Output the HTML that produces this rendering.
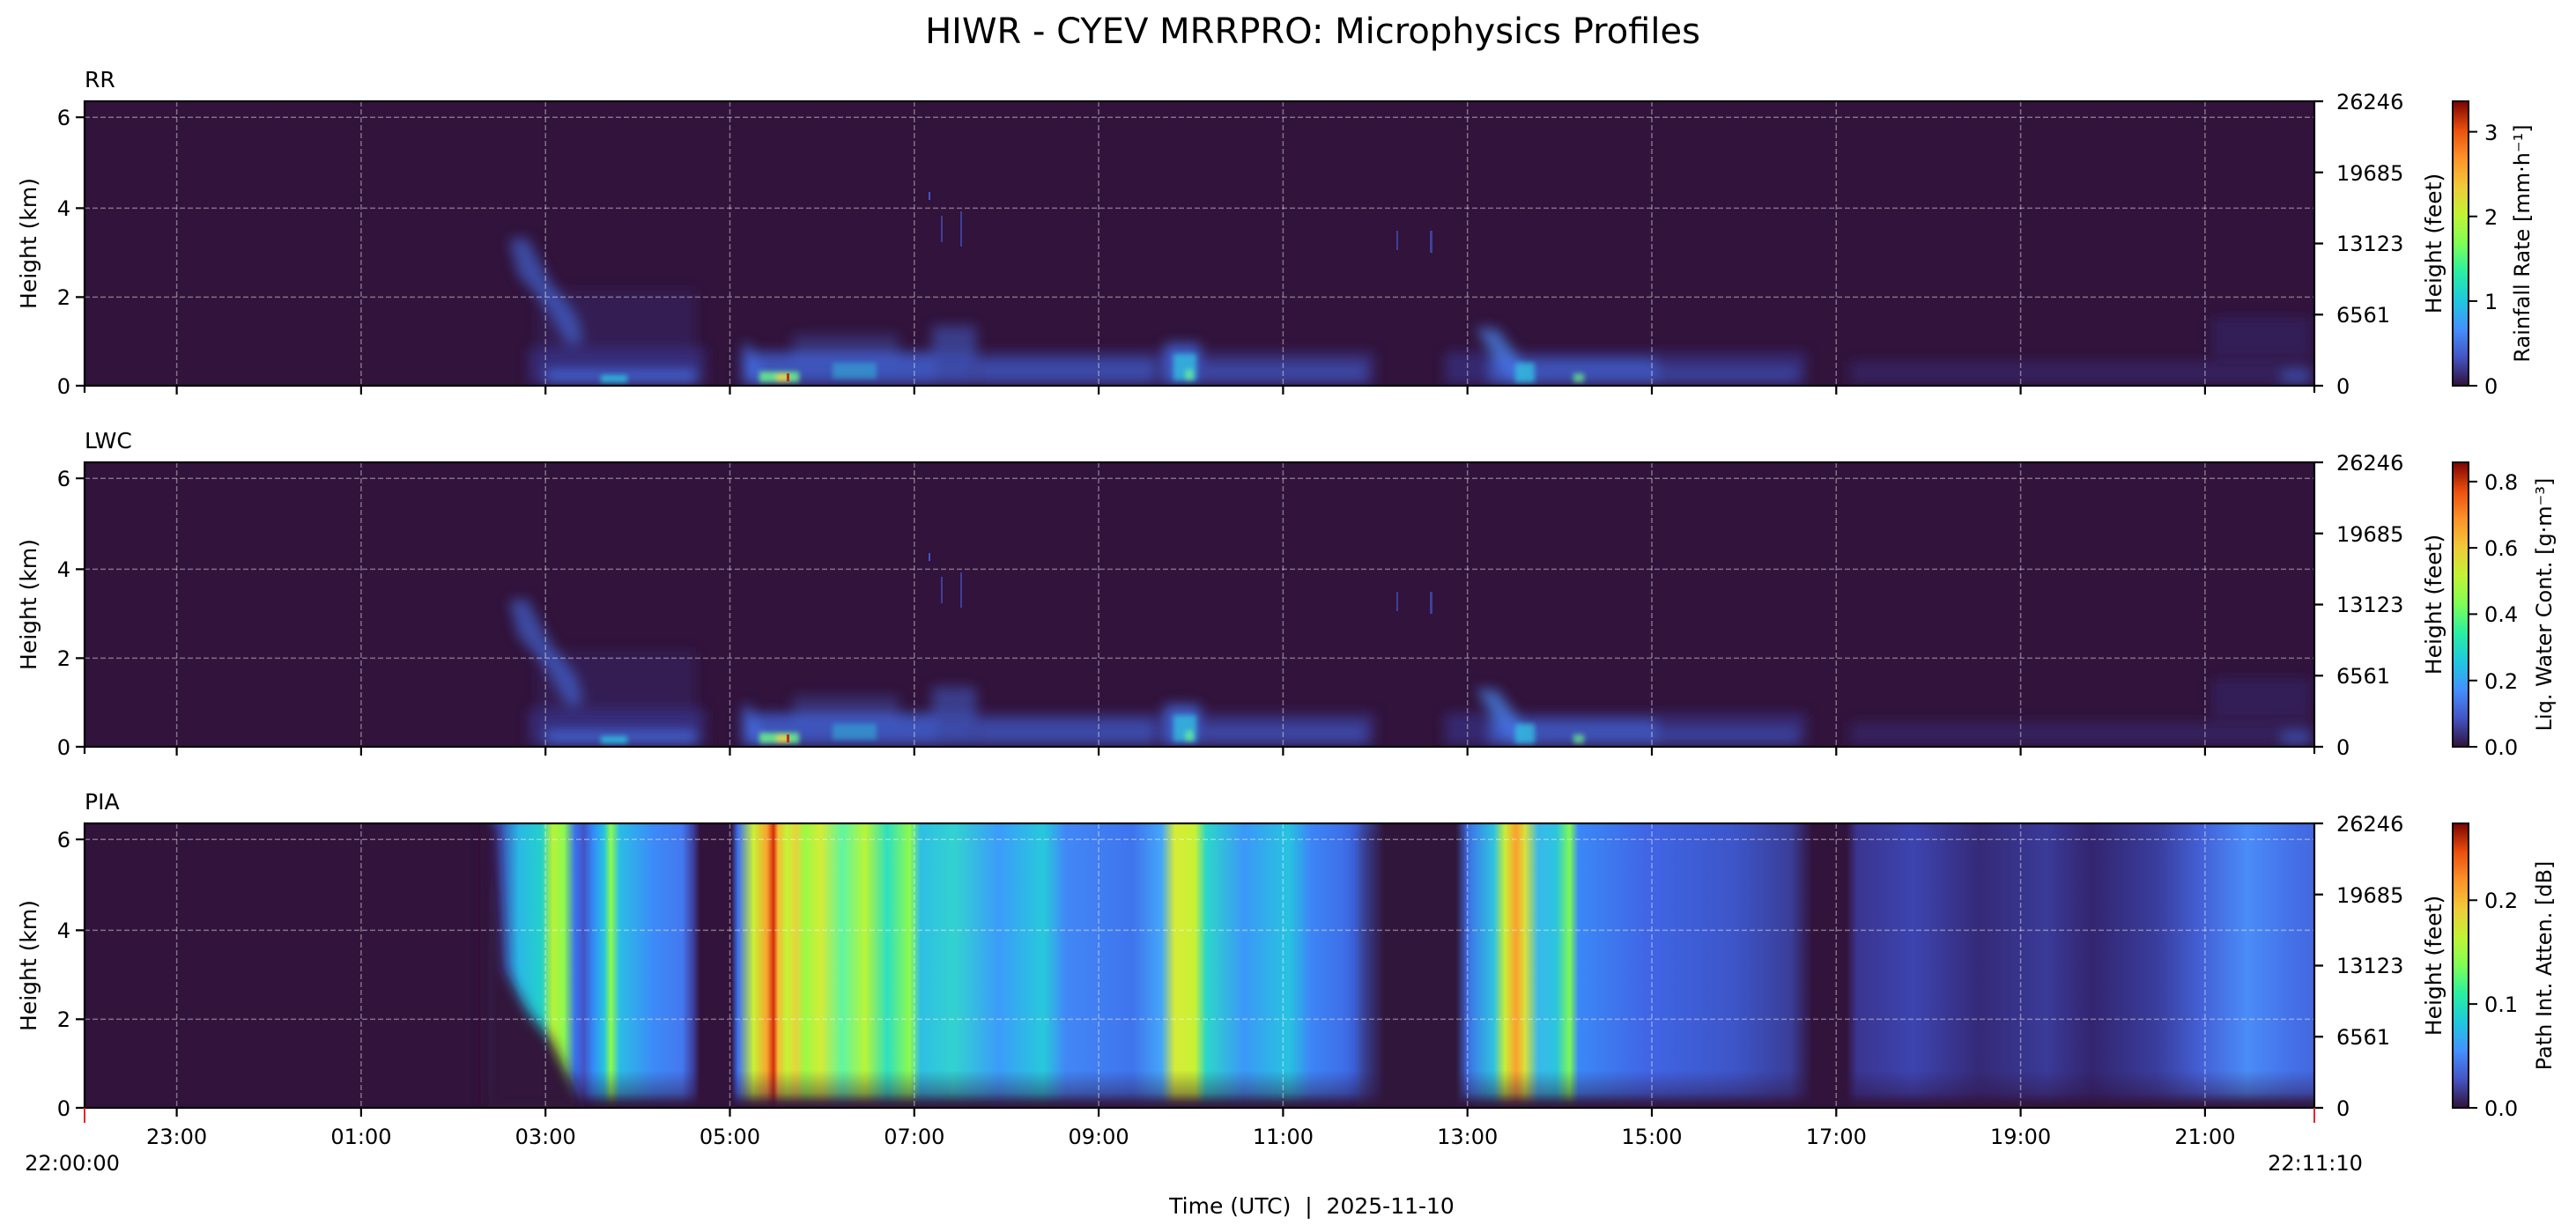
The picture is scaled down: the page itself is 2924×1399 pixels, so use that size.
<!DOCTYPE html>
<html><head><meta charset="utf-8"><style>
html,body{margin:0;padding:0;background:#fff;}
svg{display:block;font-family:"DejaVu Sans","Liberation Sans",sans-serif;}
</style></head><body>
<svg width="2924" height="1399" viewBox="0 0 2924 1399" xmlns="http://www.w3.org/2000/svg">
<defs>
<linearGradient id="turbo" x1="0" y1="1" x2="0" y2="0">
<stop offset="0" stop-color="#30123b"/><stop offset="0.1" stop-color="#4454c4"/><stop offset="0.2" stop-color="#4490fe"/><stop offset="0.3" stop-color="#1fc8de"/><stop offset="0.4" stop-color="#29efa2"/><stop offset="0.5" stop-color="#7eff55"/><stop offset="0.6" stop-color="#c1f334"/><stop offset="0.7" stop-color="#f1ca3a"/><stop offset="0.8" stop-color="#fe922a"/><stop offset="0.9" stop-color="#ea4f0d"/><stop offset="1" stop-color="#7a0403"/>
</linearGradient>
<linearGradient id="pia" x1="0" y1="0" x2="1" y2="0">
<stop offset="0" stop-color="#31133b"/><stop offset="0.180" stop-color="#31133b"/><stop offset="0.186" stop-color="#3d4fb8"/><stop offset="0.195" stop-color="#2ab8e5"/><stop offset="0.205" stop-color="#23d1c9"/><stop offset="0.210" stop-color="#b8f236"/><stop offset="0.215" stop-color="#8cfa4e"/><stop offset="0.220" stop-color="#3a72ee"/><stop offset="0.224" stop-color="#4454c4"/><stop offset="0.228" stop-color="#3389f8"/><stop offset="0.233" stop-color="#26c3e0"/><stop offset="0.236" stop-color="#8cfa4e"/><stop offset="0.240" stop-color="#2abde5"/><stop offset="0.255" stop-color="#3c8bf8"/><stop offset="0.268" stop-color="#4478f0"/><stop offset="0.273" stop-color="#3c3f9e"/><stop offset="0.276" stop-color="#31133b"/><stop offset="0.290" stop-color="#31133b"/><stop offset="0.293" stop-color="#3f6ff0"/><stop offset="0.300" stop-color="#caf135"/><stop offset="0.306" stop-color="#f7a52e"/><stop offset="0.309" stop-color="#d52d0d"/><stop offset="0.311" stop-color="#f4bc37"/><stop offset="0.315" stop-color="#c3f434"/><stop offset="0.319" stop-color="#e9d33b"/><stop offset="0.323" stop-color="#9afa45"/><stop offset="0.330" stop-color="#d4ec36"/><stop offset="0.340" stop-color="#5ff5a0"/><stop offset="0.350" stop-color="#b8f538"/><stop offset="0.360" stop-color="#2ee0c0"/><stop offset="0.370" stop-color="#8efa4c"/><stop offset="0.375" stop-color="#2ebfe3"/><stop offset="0.390" stop-color="#32d2d0"/><stop offset="0.410" stop-color="#3b9cf9"/><stop offset="0.430" stop-color="#27c9dc"/><stop offset="0.440" stop-color="#4287f6"/><stop offset="0.470" stop-color="#3f74ee"/><stop offset="0.483" stop-color="#44a6f8"/><stop offset="0.489" stop-color="#d6ec36"/><stop offset="0.498" stop-color="#c7f234"/><stop offset="0.503" stop-color="#2bd7c8"/><stop offset="0.520" stop-color="#3b98f8"/><stop offset="0.540" stop-color="#27c3df"/><stop offset="0.550" stop-color="#3d85f6"/><stop offset="0.570" stop-color="#3e67e3"/><stop offset="0.576" stop-color="#3c3f9e"/><stop offset="0.583" stop-color="#31133b"/><stop offset="0.615" stop-color="#31133b"/><stop offset="0.620" stop-color="#3e70ea"/><stop offset="0.632" stop-color="#2ec3e0"/><stop offset="0.637" stop-color="#c8ee36"/><stop offset="0.642" stop-color="#fca02e"/><stop offset="0.646" stop-color="#d8e13a"/><stop offset="0.652" stop-color="#3ab8ea"/><stop offset="0.660" stop-color="#2bc5df"/><stop offset="0.666" stop-color="#7df856"/><stop offset="0.670" stop-color="#3b88f7"/><stop offset="0.700" stop-color="#4066e6"/><stop offset="0.740" stop-color="#3d55c8"/><stop offset="0.765" stop-color="#3a3e9a"/><stop offset="0.775" stop-color="#31133b"/><stop offset="0.790" stop-color="#31133b"/><stop offset="0.795" stop-color="#3a3590"/><stop offset="0.820" stop-color="#3d44b0"/><stop offset="0.850" stop-color="#352a78"/><stop offset="0.880" stop-color="#3a3a98"/><stop offset="0.900" stop-color="#332570"/><stop offset="0.930" stop-color="#3a3e9e"/><stop offset="0.950" stop-color="#4462d8"/><stop offset="0.970" stop-color="#4a8cf8"/><stop offset="0.990" stop-color="#4470e8"/><stop offset="1" stop-color="#4468e0"/>
</linearGradient>
<linearGradient id="fade" gradientUnits="userSpaceOnUse" x1="0" y1="1215" x2="0" y2="1258">
<stop offset="0" stop-color="#31133b" stop-opacity="0"/><stop offset="0.6" stop-color="#31133b" stop-opacity="0.4"/><stop offset="0.85" stop-color="#31133b" stop-opacity="0.85"/><stop offset="1" stop-color="#31133b" stop-opacity="1"/>
</linearGradient>
<filter id="bl" x="-20%" y="-30%" width="140%" height="160%"><feGaussianBlur stdDeviation="7"/></filter>
<filter id="bl2" x="-30%" y="-30%" width="160%" height="160%"><feGaussianBlur stdDeviation="3"/></filter>
<clipPath id="c1"><rect x="96" y="115" width="2531" height="323"/></clipPath>
<clipPath id="c3"><rect x="96" y="935" width="2531" height="323"/></clipPath>
<g id="rr">
<rect x="96" y="115" width="2531" height="323" fill="#31133b"/>
<g filter="url(#bl)">
<rect x="610" y="330" width="180" height="106" fill="#3b3c9a" opacity="0.25"/>
<rect x="600" y="395" width="200" height="41" fill="#3b3c9a" opacity="0.55"/>
<rect x="840" y="400" width="720" height="36" fill="#3b3c9a" opacity="0.6"/>
<rect x="1640" y="400" width="410" height="36" fill="#3b3c9a" opacity="0.55"/>
<rect x="2100" y="410" width="523" height="26" fill="#3b3c9a" opacity="0.35"/>
<rect x="2510" y="360" width="113" height="45" fill="#3b3c9a" opacity="0.3"/>
<polygon points="578,272 598,270 625,320 655,360 662,388 645,392 620,348 588,312" fill="#4470e8" opacity="0.6"/>
<rect x="620" y="420" width="170" height="16" fill="#4470e8" opacity="0.75"/>
<rect x="845" y="400" width="215" height="36" fill="#4470e8" opacity="0.6"/>
<rect x="900" y="380" width="120" height="30" fill="#4470e8" opacity="0.3"/>
<polygon points="843,390 850,390 870,436 850,436" fill="#4470e8" opacity="0.7"/>
<rect x="1058" y="370" width="50" height="66" fill="#4470e8" opacity="0.45"/>
<rect x="1110" y="408" width="200" height="28" fill="#4470e8" opacity="0.45"/>
<rect x="1322" y="390" width="40" height="46" fill="#4470e8" opacity="0.75"/>
<rect x="1365" y="412" width="185" height="24" fill="#4470e8" opacity="0.4"/>
<polygon points="1675,372 1700,374 1745,436 1715,436" fill="#4a8cf8" opacity="0.7"/>
<rect x="1690" y="408" width="190" height="28" fill="#4470e8" opacity="0.6"/>
<rect x="1875" y="416" width="165" height="20" fill="#4470e8" opacity="0.35"/>
<rect x="2590" y="420" width="33" height="16" fill="#4470e8" opacity="0.5"/>
</g>
<g filter="url(#bl2)">
<rect x="682" y="426" width="30" height="8" fill="#2ccbe0" opacity="0.8"/>
<rect x="862" y="422" width="45" height="12" fill="#6cf58a" opacity="0.85"/>
<rect x="882" y="425" width="12" height="8" fill="#e8d13a"/>
<rect x="945" y="412" width="50" height="18" fill="#2ccbe0" opacity="0.45"/>
<rect x="1332" y="402" width="26" height="30" fill="#2ccbe0" opacity="0.7"/>
<rect x="1346" y="420" width="8" height="12" fill="#6cf58a" opacity="0.8"/>
<rect x="1720" y="412" width="22" height="22" fill="#2ccbe0" opacity="0.7"/>
<rect x="1786" y="424" width="12" height="10" fill="#6cf58a" opacity="0.7"/>
</g>
<rect x="893" y="424" width="3" height="9" fill="#c0300e"/>
<rect x="1054" y="218" width="2" height="9" fill="#4454c4"/>
<rect x="1068" y="245" width="2" height="30" fill="#4454c4" opacity="0.7"/>
<rect x="1090" y="240" width="2" height="40" fill="#4454c4" opacity="0.7"/>
<rect x="1585" y="262" width="2" height="22" fill="#4454c4" opacity="0.7"/>
<rect x="1623" y="262" width="3" height="25" fill="#4454c4" opacity="0.7"/>
</g>
</defs>

<text x="1490" y="49" font-size="40" text-anchor="middle">HIWR - CYEV MRRPRO: Microphysics Profiles</text>

<g clip-path="url(#c1)"><use href="#rr"/></g>
<g transform="translate(0,410)" clip-path="url(#c1)"><use href="#rr"/></g>
<g clip-path="url(#c3)">
<rect x="96" y="935" width="2531" height="323" fill="url(#pia)"/>
<rect x="96" y="1215" width="2531" height="43" fill="url(#fade)"/>
<g filter="url(#bl)">
<polygon points="550,935 562,935 572,1100 600,1150 625,1180 650,1230 662,1262 550,1262" fill="#31133b"/>
<rect x="1540" y="935" width="120" height="323" fill="#31133b" opacity="0.3"/>
</g>
</g>

<g fill="none">
<g stroke="#ffffff" stroke-opacity="0.4" stroke-width="1.5" stroke-dasharray="6,3">
<path d="M96 337.4H2627M96 236.4H2627M96 133.2H2627"/>
<path d="M96 747.4H2627M96 646.4H2627M96 543.2H2627"/>
<path d="M96 1157.4H2627M96 1056.4H2627M96 953.2H2627"/>
<path d="M200.6 115V438M409.9 115V438M619.2 115V438M828.5 115V438M1037.8 115V438M1247.1 115V438M1456.4 115V438M1665.7 115V438M1875 115V438M2084.3 115V438M2293.6 115V438M2502.9 115V438"/>
<path d="M200.6 525V848M409.9 525V848M619.2 525V848M828.5 525V848M1037.8 525V848M1247.1 525V848M1456.4 525V848M1665.7 525V848M1875 525V848M2084.3 525V848M2293.6 525V848M2502.9 525V848"/>
<path d="M200.6 935V1258M409.9 935V1258M619.2 935V1258M828.5 935V1258M1037.8 935V1258M1247.1 935V1258M1456.4 935V1258M1665.7 935V1258M1875 935V1258M2084.3 935V1258M2293.6 935V1258M2502.9 935V1258"/>
</g>
<g stroke="#000" stroke-width="2.2">
<rect x="96" y="115" width="2531" height="323"/>
<rect x="96" y="525" width="2531" height="323"/>
<rect x="96" y="935" width="2531" height="323"/>
<path d="M86 438H96M86 337.4H96M86 236.4H96M86 133.2H96"/>
<path d="M86 848H96M86 747.4H96M86 646.4H96M86 543.2H96"/>
<path d="M86 1258H96M86 1157.4H96M86 1056.4H96M86 953.2H96"/>
<path d="M2627 115H2637M2627 195.75H2637M2627 276.5H2637M2627 357.25H2637M2627 438H2637"/>
<path d="M2627 525H2637M2627 605.75H2637M2627 686.5H2637M2627 767.25H2637M2627 848H2637"/>
<path d="M2627 935H2637M2627 1015.75H2637M2627 1096.5H2637M2627 1177.25H2637M2627 1258H2637"/>
<path d="M96 438V446M200.6 438V448M409.9 438V448M619.2 438V448M828.5 438V448M1037.8 438V448M1247.1 438V448M1456.4 438V448M1665.7 438V448M1875 438V448M2084.3 438V448M2293.6 438V448M2502.9 438V448M2627 438V446"/>
<path d="M96 848V856M200.6 848V858M409.9 848V858M619.2 848V858M828.5 848V858M1037.8 848V858M1247.1 848V858M1456.4 848V858M1665.7 848V858M1875 848V858M2084.3 848V858M2293.6 848V858M2502.9 848V858M2627 848V856"/>
<path d="M200.6 1258V1268M409.9 1258V1268M619.2 1258V1268M828.5 1258V1268M1037.8 1258V1268M1247.1 1258V1268M1456.4 1258V1268M1665.7 1258V1268M1875 1258V1268M2084.3 1258V1268M2293.6 1258V1268M2502.9 1258V1268"/>
</g>
<path d="M96 1258V1275M2627 1258V1275" stroke="#e8262a" stroke-width="2"/>
</g>

<rect x="2784" y="115" width="18" height="323" fill="url(#turbo)" stroke="#000" stroke-width="2"/>
<rect x="2784" y="525" width="18" height="323" fill="url(#turbo)" stroke="#000" stroke-width="2"/>
<rect x="2784" y="935" width="18" height="323" fill="url(#turbo)" stroke="#000" stroke-width="2"/>
<g stroke="#000" stroke-width="2">
<path d="M2802 438H2812M2802 341.9H2812M2802 245.7H2812M2802 149.6H2812"/>
<path d="M2802 848H2812M2802 772.7H2812M2802 697.4H2812M2802 622.1H2812M2802 546.9H2812"/>
<path d="M2802 1258H2812M2802 1140.1H2812M2802 1022.2H2812"/>
</g>

<g font-size="24">
<g text-anchor="end">
<text x="80" y="447">0</text><text x="80" y="346">2</text><text x="80" y="245">4</text><text x="80" y="142">6</text>
<text x="80" y="857">0</text><text x="80" y="756">2</text><text x="80" y="655">4</text><text x="80" y="552">6</text>
<text x="80" y="1267">0</text><text x="80" y="1166">2</text><text x="80" y="1065">4</text><text x="80" y="962">6</text>
</g>
<g>
<text x="2652" y="124">26246</text><text x="2652" y="205">19685</text><text x="2652" y="285">13123</text><text x="2652" y="366">6561</text><text x="2652" y="447">0</text>
<text x="2652" y="534">26246</text><text x="2652" y="615">19685</text><text x="2652" y="695">13123</text><text x="2652" y="776">6561</text><text x="2652" y="857">0</text>
<text x="2652" y="944">26246</text><text x="2652" y="1025">19685</text><text x="2652" y="1105">13123</text><text x="2652" y="1186">6561</text><text x="2652" y="1267">0</text>
</g>
<g>
<text x="2820" y="447">0</text><text x="2820" y="351">1</text><text x="2820" y="255">2</text><text x="2820" y="159">3</text>
<text x="2820" y="857">0.0</text><text x="2820" y="782">0.2</text><text x="2820" y="706">0.4</text><text x="2820" y="631">0.6</text><text x="2820" y="556">0.8</text>
<text x="2820" y="1267">0.0</text><text x="2820" y="1149">0.1</text><text x="2820" y="1031">0.2</text>
</g>
<g text-anchor="middle">
<text x="200.6" y="1299">23:00</text><text x="409.9" y="1299">01:00</text><text x="619.2" y="1299">03:00</text><text x="828.5" y="1299">05:00</text><text x="1037.8" y="1299">07:00</text><text x="1247.1" y="1299">09:00</text><text x="1456.4" y="1299">11:00</text><text x="1665.7" y="1299">13:00</text><text x="1875" y="1299">15:00</text><text x="2084.3" y="1299">17:00</text><text x="2293.6" y="1299">19:00</text><text x="2502.9" y="1299">21:00</text>
<text x="82" y="1329">22:00:00</text><text x="2628" y="1329">22:11:10</text>
</g>
<text x="96" y="99" font-size="25">RR</text>
<text x="96" y="509" font-size="25">LWC</text>
<text x="96" y="919" font-size="25">PIA</text>
</g>

<g font-size="25" text-anchor="middle">
<text transform="translate(41,276.5) rotate(-90)">Height (km)</text>
<text transform="translate(41,686.5) rotate(-90)">Height (km)</text>
<text transform="translate(41,1096.5) rotate(-90)">Height (km)</text>
<text transform="translate(2771,276.5) rotate(-90)">Height (feet)</text>
<text transform="translate(2771,686.5) rotate(-90)">Height (feet)</text>
<text transform="translate(2771,1096.5) rotate(-90)">Height (feet)</text>
<text font-size="24" transform="translate(2871,276.5) rotate(-90)">Rainfall Rate [mm·h⁻¹]</text>
<text font-size="24" transform="translate(2896,686.5) rotate(-90)">Liq. Water Cont. [g·m⁻³]</text>
<text font-size="24" transform="translate(2896,1096.5) rotate(-90)">Path Int. Atten. [dB]</text>
<text x="1489" y="1378">Time (UTC)&#160;&#160;|&#160;&#160;2025-11-10</text>
</g>
</svg>
</body></html>
